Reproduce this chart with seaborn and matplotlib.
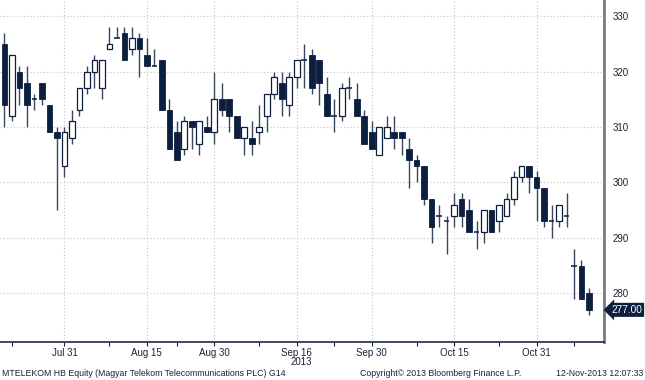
import numpy as np
import pandas as pd
import matplotlib
matplotlib.use("Agg")
import matplotlib.pyplot as plt
import matplotlib.transforms as mtransforms
import seaborn as sns

# ---------------- data ----------------
holidays = ["2013-08-19", "2013-08-20", "2013-10-23", "2013-11-01"]
start_date = "2013-07-19"
end_date = "2013-11-12"

opens = [325, 312, 320, 318, 315, 318, 314, 309, 303, 308,
         313, 317, 320, 317, 324, 326, 327, 324, 326, 323,
         321, 322, 313, 309, 306, 311, 307, 310, 309, 315,
         315, 312, 308, 308, 309, 312, 316, 318, 314, 319,
         322, 323, 322, 316, 312, 312, 317, 315, 312, 309,
         305, 308, 309, 309, 306, 304, 303, 297, 294, 293,
         294, 297, 295, 291, 291, 295, 293, 294, 297, 301,
         303, 301, 299, 293, 293, 294, 285, 285, 280]
highs = [327, 323, 321, 321, 316, 318, 314, 310, 310, 313,
         317, 321, 323, 322, 328, 328, 328, 328, 327, 326,
         324, 322, 315, 311, 312, 311, 311, 312, 320, 318,
         315, 312, 310, 311, 314, 316, 320, 320, 320, 322,
         325, 324, 322, 319, 315, 318, 319, 318, 313, 311,
         310, 312, 312, 309, 308, 305, 303, 297, 296, 294,
         298, 298, 297, 293, 295, 295, 296, 298, 302, 303,
         303, 302, 299, 296, 296, 298, 288, 286, 281]
lows = [310, 311, 314, 310, 313, 314, 309, 295, 301, 307,
        312, 316, 317, 315, 324, 326, 322, 323, 319, 321,
        321, 313, 306, 304, 305, 306, 305, 309, 307, 312,
        309, 308, 305, 305, 307, 309, 315, 312, 312, 317,
        317, 316, 314, 312, 309, 311, 315, 312, 307, 306,
        305, 308, 306, 305, 299, 300, 296, 289, 292, 287,
        292, 292, 291, 288, 289, 291, 291, 294, 296, 300,
        298, 293, 292, 290, 292, 292, 279, 279, 276]
closes = [314, 323, 317, 314, 315, 315, 309, 308, 309, 311,
          317, 320, 322, 322, 325, 326, 322, 326, 324, 321,
          321, 313, 306, 304, 311, 310, 311, 309, 315, 313,
          312, 308, 310, 307, 310, 316, 319, 315, 319, 322,
          322, 317, 318, 312, 312, 317, 317, 312, 307, 306,
          310, 310, 308, 308, 304, 303, 297, 292, 294, 293,
          296, 294, 291, 291, 295, 291, 296, 297, 301, 303,
          301, 299, 293, 293, 296, 294, 285, 279, 277]

major_tick_dates = ["2013-07-31", "2013-08-15", "2013-08-30", "2013-09-16",
                    "2013-09-30", "2013-10-15", "2013-10-31"]
major_tick_labels = ["Jul 31", "Aug 15", "Aug 30", "Sep 16\n2013",
                     "Sep 30", "Oct 15", "Oct 31"]
minor_tick_dates = ["2013-07-22", "2013-08-08", "2013-08-23", "2013-09-09",
                    "2013-09-23", "2013-10-08", "2013-10-24", "2013-11-08"]
y_ticks = [280, 290, 300, 310, 320, 330]
y_minor_ticks = [275, 285, 295, 305, 315, 325]
last_price_label = "277.00"
footer_left = "MTELEKOM HB Equity (Magyar Telekom Telecommunications PLC) G14"
footer_mid = "Copyright\u00a9 2013 Bloomberg Finance L.P."
footer_right = "12-Nov-2013 12:07:33"

# ---------------- build ----------------
dates = [d for d in pd.bdate_range(start_date, end_date)
         if d.strftime("%Y-%m-%d") not in holidays]
df = pd.DataFrame({"date": dates, "open": opens, "high": highs,
                   "low": lows, "close": closes})
df["pos"] = np.arange(len(df))
pos_of = {d.strftime("%Y-%m-%d"): p for d, p in zip(df["date"], df["pos"])}

sns.set_theme(style="white")
plt.rcParams["font.family"] = ["Liberation Sans", "DejaVu Sans"]

NAVY = "#0c1f3f"
WICK = "#3a475e"
TXT = "#1b2238"
GRID = "#c4c4c4"

fig = plt.figure(figsize=(6.45, 3.80), dpi=100)
ax = fig.add_axes([0.0, 0.1, 0.9364, 0.9])

x = df["pos"].values
o = df["open"].values.astype(float)
h = df["high"].values.astype(float)
l = df["low"].values.astype(float)
c = df["close"].values.astype(float)
up = c > o
down = c < o
doji = c == o
W = 0.76

ax.vlines(x, l, h, color=WICK, lw=1.0, zorder=2)
ax.bar(x[down], (o - c)[down], bottom=c[down], width=W, color=NAVY,
       edgecolor=NAVY, lw=0.6, zorder=3)
ax.bar(x[up], (c - o)[up], bottom=o[up], width=W, facecolor="white",
       edgecolor=NAVY, lw=0.9, zorder=3)
ax.hlines(c[doji], x[doji] - W / 2, x[doji] + W / 2, color=NAVY, lw=1.1, zorder=3)

ax.set_xlim(-0.6, 80.0)
ax.set_ylim(271.2, 332.9)

# y axis on right
ax.yaxis.tick_right()
ax.set_yticks(y_ticks)
ax.set_yticklabels([str(v) for v in y_ticks])
ax.set_yticks(y_minor_ticks, minor=True)
ax.tick_params(axis="y", which="major", right=True, left=False, direction="out",
               length=4, width=1.2, color="#222222", labelsize=7, labelcolor=TXT, pad=2)
ax.tick_params(axis="y", which="minor", right=True, left=False, direction="out",
               length=3, width=0.8, color="#222222")

# x axis
ax.set_xticks([pos_of[d] for d in major_tick_dates])
ax.set_xticklabels(major_tick_labels, multialignment="right", linespacing=0.9)
ax.set_xticks([pos_of[d] for d in minor_tick_dates], minor=True)
ax.tick_params(axis="x", which="major", bottom=True, direction="out", length=3,
               width=0.8, color="#222222", labelsize=7, labelcolor=TXT, pad=1)
ax.tick_params(axis="x", which="minor", bottom=True, direction="out", length=3,
               width=0.8, color="#222222")

ax.grid(True, which="major", axis="both", linestyle=(0, (1, 2)), color=GRID, lw=0.8)
ax.set_axisbelow(True)

sns.despine(ax=ax, left=True, top=True, right=False, bottom=False)
ax.spines["right"].set_color("#7a7a7a")
ax.spines["right"].set_linewidth(2.0)
ax.spines["bottom"].set_color("#1a2a44")
ax.spines["bottom"].set_linewidth(1.2)

# last price tag
trans = mtransforms.blended_transform_factory(ax.transAxes, ax.transData)
ax.text(1.012, c[-1], last_price_label, transform=trans, color="white", fontsize=7.3,
        va="center", ha="left", zorder=5, clip_on=False,
        bbox=dict(boxstyle="larrow,pad=0.2", fc=NAVY, ec="none"))

# footer
fig.text(0.003, 0.016, footer_left, fontsize=6.3, color=TXT, ha="left", va="center")
fig.text(0.683, 0.016, footer_mid, fontsize=6.3, color=TXT, ha="center", va="center")
fig.text(0.997, 0.016, footer_right, fontsize=6.3, color=TXT, ha="right", va="center")

fig.savefig("out.png", dpi=100)
